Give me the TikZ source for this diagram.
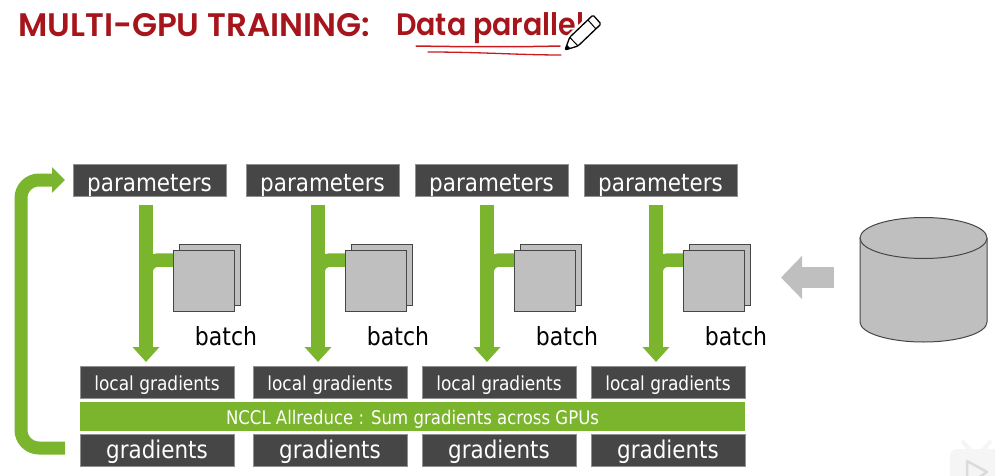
\documentclass[tikz,border=0pt]{standalone}
\usepackage{fontspec}
\newfontfamily\boxfont[FakeStretch=0.88]{DejaVu Sans}
\newfontfamily\capsfont{Poppins SemiBold}
\newfontfamily\lowerfont[FakeStretch=0.92]{Poppins SemiBold}
\usetikzlibrary{arrows.meta,positioning}
\definecolor{nvgreen}{HTML}{7AB52D}
\definecolor{boxgray}{HTML}{464646}
\definecolor{cubegray}{HTML}{BFBFBF}
\definecolor{titlered}{HTML}{A6151B}
\definecolor{inkred}{HTML}{CC1A22}

\begin{document}
\begin{tikzpicture}[
    x=1pt,
    y=-1pt,
    label/.style={
        fill=boxgray,
        draw=boxgray!60,
        line width=0.5pt,
        outer sep=0pt,
        text=white,
        inner sep=0pt,
        text depth=0pt,
        minimum width=153pt,
        minimum height=32pt
    },
    parambox/.style={label, text height=22pt, font=\boxfont\fontsize{24.4}{24}\selectfont},
    gradbox/.style={label, minimum width=154pt, text height=16pt, font=\boxfont\fontsize{24.4}{24}\selectfont},
    localbox/.style={label, minimum width=154pt, text height=16pt, font=\boxfont\fontsize{19.3}{19}\selectfont},
    sheet/.style={
        draw=boxgray,
        fill=cubegray,
        line width=1pt,
        inner sep=0pt,
        minimum size=61pt
    },
    tank/.style={draw=boxgray, fill=cubegray, line width=1pt},
    batchtext/.style={font=\boxfont\fontsize{25}{25}\selectfont},
    flow/.style={draw=nvgreen, line width=13.5pt},
    down/.style={flow, -{Triangle[width=26pt,length=15pt]}},
    branch/.style={flow, rounded corners=12pt}
]
\useasboundingbox (0,0) rectangle (995,476);

% Title
\node[anchor=base west, inner sep=0pt, text=titlered, font=\capsfont\fontsize{32.6}{33}\selectfont] (title) at (18,37) {MULTI-GPU TRAINING:};
\node[anchor=base west, inner sep=0pt, text=titlered, font=\lowerfont\fontsize{31}{32}\selectfont] (mode) at (396,36) {Data parallel};

% Underlines
\draw[inkred, line width=1.5pt, line cap=round] (416,46) .. controls (470,47) and (520,47) .. (560,46);
\draw[inkred, line width=1.3pt, line cap=round] (428,52) .. controls (480,52) and (520,55) .. (561,55);

% Pen
\draw[white, line width=6pt, line join=round, fill=white] (565,50) -- (578,46) -- (601,24) -- (593,15) -- (569.7,37.3) -- cycle;
\draw[black, line width=1.3pt, line join=round, fill=white, rounded corners=1.5pt] (565,50) -- (578,46) -- (601,24) -- (593,15) -- (569.7,37.3) -- cycle;
\draw[black, line width=1pt] (569.7,37.3) -- (578,46);
\draw[black, line width=1pt] (588,20) -- (596,29);
\fill[black] (565,50) -- (570.4,48.3) -- (566.9,44.7) -- cycle;

% Parameters
\node[parambox] (param1) at (149.5,180) {parameters};
\node[parambox, right=20pt of param1] (param2) {parameters};
\node[parambox, right=16pt of param2] (param3) {parameters};
\node[parambox, right=16pt of param3] (param4) {parameters};

% Local gradients
\node[localbox] (local1) at (157,382) {local gradients};
\node[localbox, right=19pt of local1] (local2) {local gradients};
\node[localbox, right=15pt of local2] (local3) {local gradients};
\node[localbox, right=15pt of local3] (local4) {local gradients};

% Allreduce bar
\node[fill=nvgreen, text=white, inner sep=0pt, text depth=0pt, text height=15pt, minimum width=665pt, minimum height=29pt, font=\boxfont\fontsize{18.8}{19}\selectfont] (allreduce) at (412.5,416.5) {NCCL Allreduce : Sum gradients across GPUs};

% Gradients
\node[gradbox] (grad1) at (157,450) {gradients};
\node[gradbox, right=19pt of grad1] (grad2) {gradients};
\node[gradbox, right=15pt of grad2] (grad3) {gradients};
\node[gradbox, right=15pt of grad3] (grad4) {gradients};

% Batches
\node[sheet] (back1) at (210,275) {};
\node[sheet] (front1) at (204,281) {};
\node[batchtext, below=11pt of front1, xshift=22pt] (batch1) {batch};
\node[sheet] (back2) at (382,275) {};
\node[sheet] (front2) at (376,281) {};
\node[batchtext, below=11pt of front2, xshift=22pt] (batch2) {batch};
\node[sheet] (back3) at (551,275) {};
\node[sheet] (front3) at (545,281) {};
\node[batchtext, below=11pt of front3, xshift=22pt] (batch3) {batch};
\node[sheet] (back4) at (720,275) {};
\node[sheet] (front4) at (714,281) {};
\node[batchtext, below=11pt of front4, xshift=22pt] (batch4) {batch};

% Dataset
\draw[tank] (860,238) -- (860,322) arc[start angle=180, end angle=0, x radius=63.5, y radius=20] -- (987,238);
\draw[tank] (923.5,238) ellipse [x radius=63.5, y radius=20.5];

% Arrows
\draw[down] ([xshift=-3.5pt,yshift=-9pt]param1.south) -- ([xshift=-11pt,yshift=4pt]local1.north);
\draw[down] ([xshift=-4.5pt,yshift=-9pt]param2.south) -- ([xshift=-12pt,yshift=4pt]local2.north);
\draw[down] ([xshift=-4.5pt,yshift=-9pt]param3.south) -- ([xshift=-12pt,yshift=4pt]local3.north);
\draw[down] ([xshift=-4.5pt,yshift=-9pt]param4.south) -- ([xshift=-12pt,yshift=4pt]local4.north);

\draw[branch] ([yshift=21pt]front1.west) -- ++(-27,0) -- ++(0,30);
\draw[branch] ([yshift=21pt]front2.west) -- ++(-27,0) -- ++(0,30);
\draw[branch] ([yshift=21pt]front3.west) -- ++(-27,0) -- ++(0,30);
\draw[branch] ([yshift=21pt]front4.west) -- ++(-27,0) -- ++(0,30);

% Loop back
\coordinate (loopstart) at (65,448);
\draw[flow, line width=13pt, rounded corners=18pt, -{Triangle[width=25pt,length=13pt]}, shorten >=8pt] (loopstart) -- (21,448) -- (21,180) -- (param1.west);

% Data feed
\coordinate (feedstart) at (834,277.5);
\coordinate (feedend) at (781,277.5);
\draw[draw=cubegray, line width=21pt, -{Triangle[width=42pt,length=21pt]}] (feedstart) -- (feedend);

% Player mark
\fill[black!4, rounded corners=7pt] (950,449) rectangle (1010,490);
\draw[black!4, line width=4pt, line cap=round] (963,442) -- (970,450);
\draw[black!4, line width=4pt, line cap=round] (990,442) -- (983,450);
\draw[black!14, fill=black!4, line width=2.5pt, line join=round] (967,461) -- (987,472) -- (967,485) -- cycle;

\end{tikzpicture}
\end{document}
